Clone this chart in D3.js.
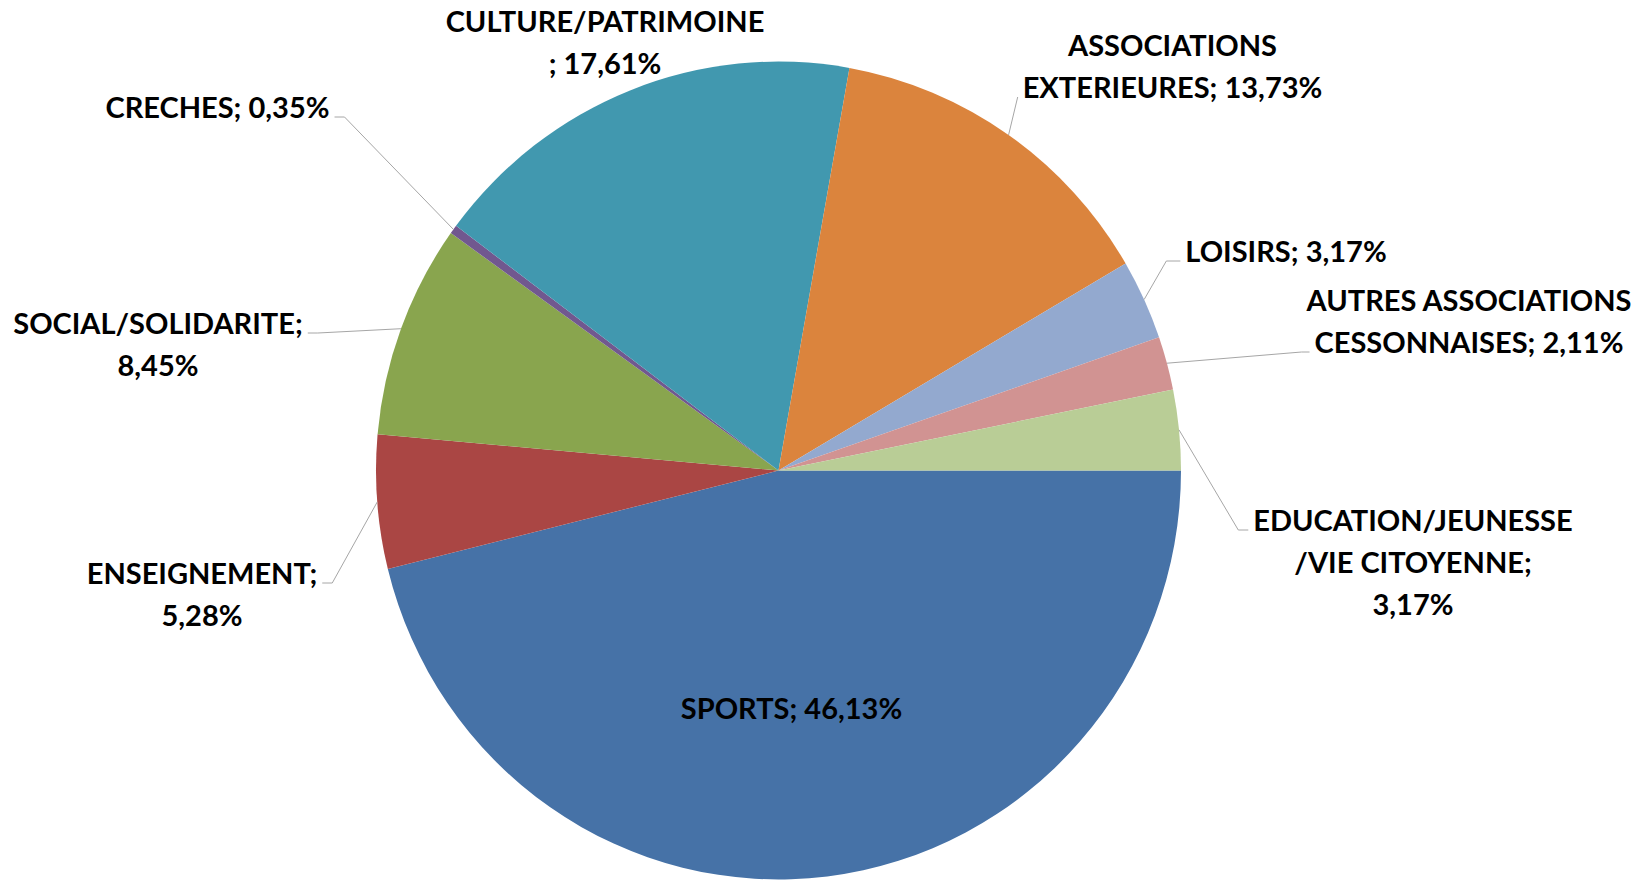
<!DOCTYPE html>
<html>
<head>
<meta charset="utf-8">
<script src="https://cdn.jsdelivr.net/npm/d3@7/dist/d3.min.js"></script>
<style>
  html, body { margin: 0; padding: 0; background: #ffffff; }
  svg { display: block; }
  .lbl { font-family: Lato, "Open Sans", sans-serif; font-weight: 700; font-size: 29px; fill: #000; }
</style>
</head>
<body>
<svg id="chart" width="1639" height="880"></svg>
<script>
// ---- data ----
const categories = [
  "SPORTS", "ENSEIGNEMENT", "SOCIAL/SOLIDARITE", "CRECHES", "CULTURE/PATRIMOINE",
  "ASSOCIATIONS EXTERIEURES", "LOISIRS", "AUTRES ASSOCIATIONS CESSONNAISES",
  "EDUCATION/JEUNESSE/VIE CITOYENNE"
];
const values = [46.13, 5.28, 8.45, 0.35, 17.61, 13.73, 3.17, 2.11, 3.17];
const labelLines = [
  ["SPORTS; 46,13%"],
  ["ENSEIGNEMENT;", "5,28%"],
  ["SOCIAL/SOLIDARITE;", "8,45%"],
  ["CRECHES; 0,35%"],
  ["CULTURE/PATRIMOINE", "; 17,61%"],
  ["ASSOCIATIONS", "EXTERIEURES; 13,73%"],
  ["LOISIRS; 3,17%"],
  ["AUTRES ASSOCIATIONS", "CESSONNAISES; 2,11%"],
  ["EDUCATION/JEUNESSE", "/VIE CITOYENNE;", "3,17%"]
];
const colors = ["#4672A7", "#AA4644", "#89A54E", "#71588F", "#4198AF", "#DB843D", "#93A9CF", "#D19392", "#B9CD96"];

// ---- layout (label placement, not data) ----
const labelLayout = [
  { cx: 791.5, y: 719, leader: null },
  { cx: 202, y: 584, leader: { line: 0, side: "right", elbow: 10 } },
  { cx: 158, y: 334, leader: { line: 0, side: "right", elbow: 10 } },
  { cx: 217.5, y: 118, leader: { line: 0, side: "right", elbow: 10 } },
  { cx: 605, y: 31.5, leader: null },
  { cx: 1172.5, y: 56, leader: { line: 1, side: "left", elbow: 0 } },
  { cx: 1286, y: 262, leader: { line: 0, side: "left", elbow: 14 } },
  { cx: 1469, y: 311, leader: { line: 1, side: "left", elbow: 8 } },
  { cx: 1413, y: 531, leader: { line: 0, side: "left", elbow: 10 } }
];
const lineHeight = 42;

const W = 1639, H = 880;
const cx = 778.5, cy = 470.5, R = 402.5, yStretch = 1.016;

const svg = d3.select("#chart");

const pie = d3.pie().sort(null).value(d => d)
  .startAngle(Math.PI / 2).endAngle(Math.PI / 2 + 2 * Math.PI);
const arcs = pie(values);
const arc = d3.arc().innerRadius(0).outerRadius(R);

const pg = svg.append("g").attr("transform", `translate(${cx},${cy}) scale(1,${yStretch})`);
pg.selectAll("path").data(arcs).enter().append("path")
  .attr("d", arc)
  .attr("fill", (d, i) => colors[i]);

// labels
const lg = svg.append("g");
const leaderG = svg.append("g");
arcs.forEach((a, i) => {
  const L = labelLayout[i];
  const t = lg.append("text").attr("class", "lbl").attr("text-anchor", "middle");
  const spans = labelLines[i].map((s, k) =>
    t.append("tspan").attr("x", L.cx).attr("y", L.y + k * lineHeight).text(s));
  if (!L.leader) return;
  const sp = spans[L.leader.line].node();
  const w = sp.getComputedTextLength();
  const ly = L.y + L.leader.line * lineHeight - 1;
  const gap = 5;
  const x0 = L.leader.side === "right" ? L.cx + w / 2 + gap : L.cx - w / 2 - gap;
  const x1 = L.leader.side === "right" ? x0 + L.leader.elbow : x0 - L.leader.elbow;
  const mid = (a.startAngle + a.endAngle) / 2;
  const ex = cx + R * Math.sin(mid);
  const ey = cy - R * yStretch * Math.cos(mid);
  leaderG.append("path")
    .attr("d", d3.line()([[x0, ly], [x1, ly], [ex, ey]]))
    .attr("fill", "none")
    .attr("stroke", "#A6A6A6")
    .attr("stroke-width", 1);
});
</script>
</body>
</html>
